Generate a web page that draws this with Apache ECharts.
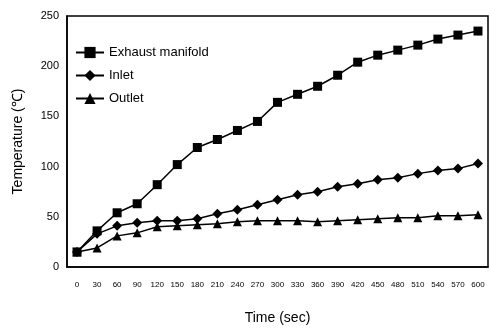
<!DOCTYPE html>
<html><head><meta charset="utf-8">
<script src="https://cdn.jsdelivr.net/npm/echarts@6/dist/echarts.min.js"></script>
<style>html,body{margin:0;padding:0;background:#fff}#c{width:490px;height:330px}</style>
</head><body><div id="c"></div>
<script>
const categories = ['0','30','60','90','120','150','180','210','240','270','300','330','360','390','420','450','480','510','540','570','600'];
const exhaust = [15,36,54,63,82,102,119,127,136,145,164,172,180,191,204,211,216,221,227,231,235];
const inlet = [15,33,41,44,46,46,48,53,57,62,67,72,75,80,83,87,89,93,96,98,103];
const outlet = [15,19,31,34,40,41,42,43,45,46,46,46,45,46,47,48,49,49,51,51,52];
const yTicks = [0,50,100,150,200,250];
const seriesNames = ['Exhaust manifold','Inlet','Outlet'];

const font = 'Liberation Sans, Arial, sans-serif';
const chart = echarts.init(document.getElementById('c'));
const mk = (name, data, symbol, size) => ({
  name, type: 'line', data, symbol, symbolSize: size,
  lineStyle: {color: '#000', width: 1.5},
  itemStyle: {color: '#000'},
  animation: false
});
chart.setOption({
  animation: false,
  grid: {left: 67, right: 2, top: 16, bottom: 62, show: true, borderColor: '#000', borderWidth: 1.5},
  legend: {
    left: 70, top: 41, orient: 'vertical', itemGap: 10, itemWidth: 28, itemHeight: 14,
    textStyle: {fontFamily: font, fontSize: 13, color: '#000'},
    data: seriesNames
  },
  xAxis: {
    type: 'category', data: categories, boundaryGap: true,
    name: 'Time (sec)', nameLocation: 'middle', nameGap: 44,
    nameTextStyle: {fontFamily: font, fontSize: 14, color: '#000'},
    axisLine: {lineStyle: {color: '#000', width: 1.5}},
    axisTick: {show: false},
    axisLabel: {fontFamily: font, fontSize: 8, color: '#000', margin: 14, interval: 0}
  },
  yAxis: {
    type: 'value', min: 0, max: 250, interval: 50,
    name: 'Temperature (℃)', nameLocation: 'middle', nameGap: 42,
    nameTextStyle: {fontFamily: font, fontSize: 14, color: '#000'},
    axisLine: {show: true, lineStyle: {color: '#000', width: 1.5}},
    axisTick: {show: false},
    splitLine: {show: false},
    axisLabel: {fontFamily: font, fontSize: 11, color: '#000', margin: 8,
      formatter: v => yTicks.includes(v) ? String(v) : ''}
  },
  series: [
    mk(seriesNames[0], exhaust, 'rect', 9),
    mk(seriesNames[1], inlet, 'diamond', 10),
    mk(seriesNames[2], outlet, 'triangle', 9)
  ]
});
</script></body></html>
